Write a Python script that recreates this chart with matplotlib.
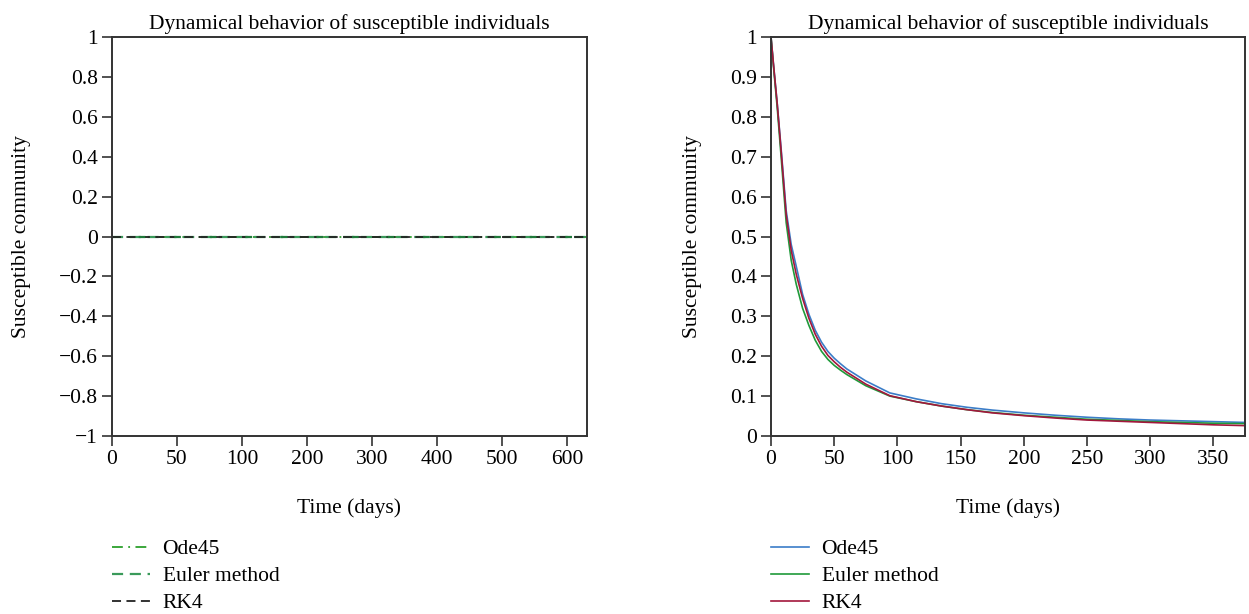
import matplotlib
matplotlib.use("Agg")
import matplotlib.pyplot as plt
import numpy as np

# ---------------- data ----------------
title = "Dynamical behavior of susceptible individuals"
ylabel = "Susceptible community"
xlabel = "Time (days)"
series_names = ["Ode45", "Euler method", "RK4"]

# Left panel (all methods identically zero)
left_tick_pos = [0, 100, 200, 300, 400, 500, 600, 700]
left_tick_labels = ["0", "50", "100", "200", "300", "400", "500", "600"]
left_time = [0, 731]
left_ode45 = [0, 0]
left_euler = [0, 0]
left_rk4 = [0, 0]
left_yticks = [-1, -0.8, -0.6, -0.4, -0.2, 0, 0.2, 0.4, 0.6, 0.8, 1]
left_yticklabels = ["\u22121", "\u22120.8", "\u22120.6", "\u22120.4", "\u22120.2", "0",
                    "0.2", "0.4", "0.6", "0.8", "1"]

# Right panel
right_time = [0, 2, 5, 8, 12, 16, 20, 25, 30, 35, 40, 45, 50, 55, 60, 75, 94,
              115, 135, 155, 175, 200, 225, 250, 275, 300, 325, 350, 375]
right_ode45 = [1.0, 0.93, 0.83, 0.72, 0.565, 0.48, 0.425, 0.355, 0.305, 0.265,
               0.235, 0.212, 0.195, 0.181, 0.168, 0.138, 0.108,
               0.093, 0.081, 0.072, 0.065, 0.058, 0.052, 0.047, 0.043, 0.040,
               0.038, 0.036, 0.034]
right_euler = [1.0, 0.925, 0.82, 0.70, 0.535, 0.44, 0.38, 0.32, 0.277, 0.24,
               0.212, 0.192, 0.177, 0.165, 0.154, 0.126, 0.100,
               0.086, 0.075, 0.066, 0.059, 0.052, 0.047, 0.042, 0.039, 0.036,
               0.034, 0.032, 0.031]
right_rk4 = [1.0, 0.93, 0.83, 0.715, 0.555, 0.465, 0.405, 0.345, 0.295, 0.255,
             0.225, 0.202, 0.186, 0.172, 0.160, 0.130, 0.101,
             0.086, 0.075, 0.066, 0.058, 0.051, 0.045, 0.040, 0.037, 0.034,
             0.031, 0.028, 0.026]
right_xticks = [0, 50, 100, 150, 200, 250, 300, 350]
right_yticks = [0, 0.1, 0.2, 0.3, 0.4, 0.5, 0.6, 0.7, 0.8, 0.9, 1]
right_yticklabels = ["0", "0.1", "0.2", "0.3", "0.4", "0.5", "0.6", "0.7", "0.8", "0.9", "1"]

# ---------------- style ----------------
plt.rcParams['font.family'] = ['Liberation Serif', 'DejaVu Serif']
FS = 15.5
spine_c = "#333333"

fig = plt.figure(figsize=(12.49, 6.14), dpi=100)
axL = fig.add_axes([112/1249, 1-436/614, 475/1249, 399/614])
axR = fig.add_axes([771/1249, 1-436/614, 474/1249, 399/614])

def style(ax):
    for s in ax.spines.values():
        s.set_color(spine_c)
        s.set_linewidth(1.4)
    ax.tick_params(direction='out', length=7, width=1.2, color=spine_c,
                   labelsize=FS, top=False, right=False, pad=3)
    ax.set_title(title, fontsize=FS, pad=6)
    ax.set_ylabel(ylabel, fontsize=FS, labelpad=20)
    ax.set_xlabel(xlabel, fontsize=FS, labelpad=21)

leg_kw = dict(loc='upper left', frameon=False, fontsize=FS, handlelength=1.75,
              handletextpad=0.6, labelspacing=0.33, borderaxespad=0, borderpad=0)

# Left
l1, = axL.plot(left_time, left_ode45, color="#2ca02c", ls=(0, (6, 3, 1, 3)), lw=1.3)
l2, = axL.plot(left_time, left_euler, color="#3a9a5a", ls=(0, (5, 3)), lw=1.6)
l3, = axL.plot(left_time, left_rk4, color="#222222", ls=(0, (5, 3)), lw=1.3)
axL.plot(left_time, left_euler, color="#1f7a3a", ls=(4, (3, 13)), lw=1.6)
axL.set_xlim(0, 731)
axL.set_ylim(-1, 1)
axL.set_xticks(left_tick_pos)
axL.set_xticklabels(left_tick_labels)
axL.set_yticks(left_yticks)
axL.set_yticklabels(left_yticklabels)
style(axL)
fig.legend([l1, l2, l3], series_names, bbox_to_anchor=(112/1249, 1-539/614), **leg_kw)

# Right
r1, = axR.plot(right_time, right_ode45, color="#3b7dc8", lw=1.2)
r2, = axR.plot(right_time, right_euler, color="#1f9a3a", lw=1.2)
r3, = axR.plot(right_time, right_rk4, color="#a3173c", lw=1.2)
axR.set_xlim(0, 375)
axR.set_ylim(0, 1)
axR.set_xticks(right_xticks)
axR.set_yticks(right_yticks)
axR.set_yticklabels(right_yticklabels)
style(axR)
fig.legend([r1, r2, r3], series_names, bbox_to_anchor=(771/1249, 1-539/614), **leg_kw)

fig.savefig("out.png", dpi=100)
